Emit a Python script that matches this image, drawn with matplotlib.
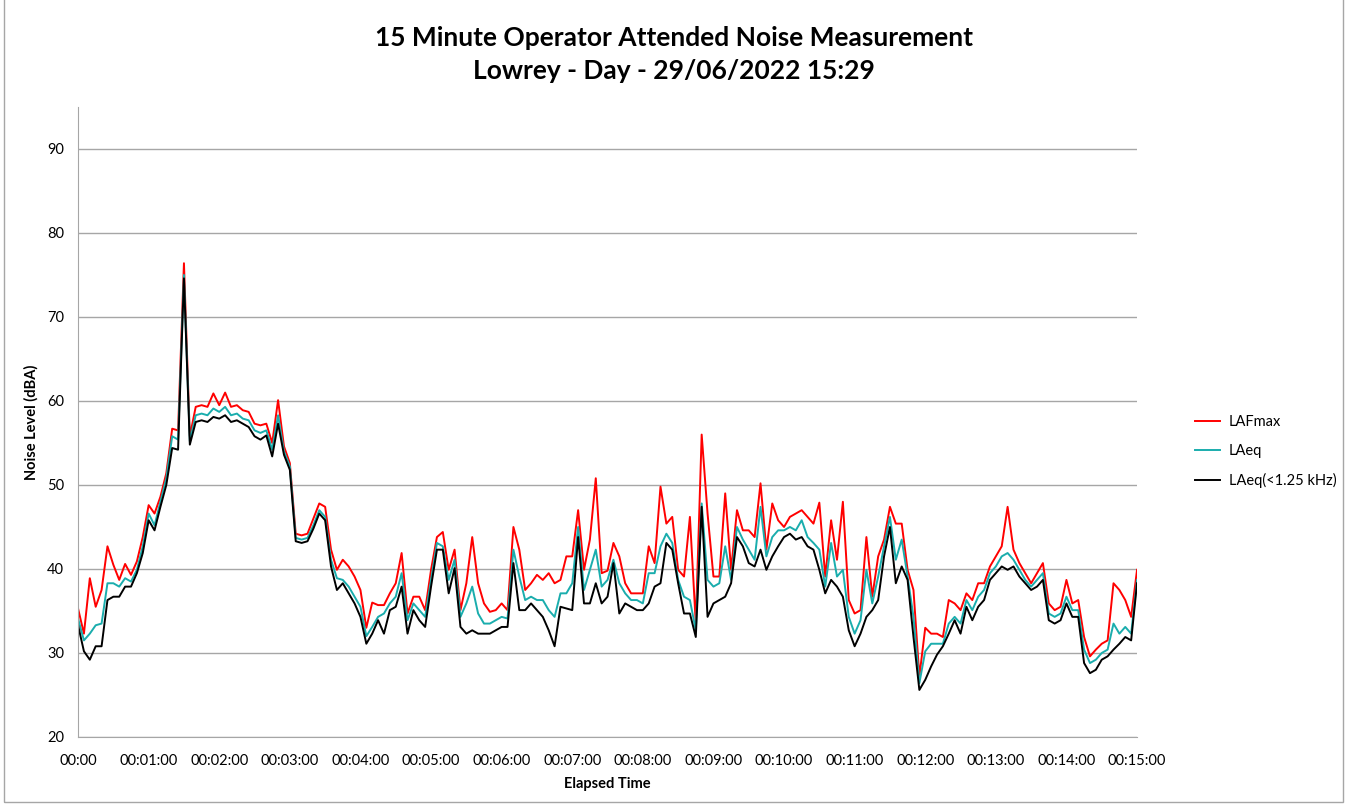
import matplotlib
matplotlib.use("Agg")
import matplotlib.pyplot as plt
from matplotlib.patches import Rectangle

# --- DATA (5 s steps) ---
STEP = 5
LAFMAX = [
    35.3, 32.3, 38.9, 35.5, 37.5, 42.7, 40.5, 38.7, 40.6, 39.3,
    40.9, 43.8, 47.6, 46.6, 48.6, 51.4, 56.7, 56.5, 76.4, 55.8,
    59.3, 59.5, 59.3, 60.9, 59.5, 61.0, 59.3, 59.5, 58.9, 58.7,
    57.3, 57.1, 57.3, 55.0, 60.1, 54.6, 52.6, 44.2, 44.0, 44.2,
    46.0, 47.8, 47.4, 42.3, 39.9, 41.1, 40.3, 39.1, 37.5, 33.0,
    36.0, 35.7, 35.7, 37.1, 38.3, 41.9, 34.7, 36.7, 36.7, 35.1,
    39.9, 43.8, 44.4, 39.9, 42.3, 35.1, 38.3, 43.8, 38.3, 35.9,
    34.9, 35.1, 35.9, 35.1, 45.0, 42.3, 37.5, 38.3, 39.3, 38.7,
    39.5, 38.3, 38.7, 41.5, 41.5, 47.0, 39.9, 43.5, 50.8, 39.5,
    39.8, 43.1, 41.5, 38.3, 37.1, 37.1, 37.1, 42.7, 40.7, 49.8,
    45.4, 46.2, 39.9, 39.1, 46.2, 33.5, 56.0, 46.6, 39.1, 39.1,
    49.0, 39.9, 47.0, 44.6, 44.6, 43.8, 50.2, 42.3, 47.8, 45.8,
    45.0, 46.2, 46.6, 47.0, 46.2, 45.4, 47.9, 39.1, 45.8, 41.1,
    48.0, 36.3, 34.7, 35.1, 43.8, 36.7, 41.5, 43.5, 47.4, 45.4,
    45.4, 39.9, 37.5, 27.2, 33.0, 32.3, 32.3, 31.9, 36.3, 35.9,
    35.1, 37.1, 36.3, 38.3, 38.3, 40.3, 41.5, 42.7, 47.4, 42.3,
    40.7, 39.5, 38.3, 39.5, 40.7, 35.9, 35.1, 35.5, 38.7, 35.9,
    36.3, 31.9, 29.6, 30.4, 31.1, 31.5, 38.3, 37.5, 36.3, 34.3,
    39.9,
]
LAEQ = [
    34.1, 31.5, 32.3, 33.3, 33.5, 38.3, 38.3, 37.9, 38.9, 38.5,
    39.9, 42.7, 46.6, 45.2, 48.0, 50.8, 55.8, 55.4, 75.0, 55.2,
    58.3, 58.5, 58.3, 59.1, 58.7, 59.3, 58.3, 58.5, 57.9, 57.7,
    56.5, 56.2, 56.5, 54.2, 58.3, 54.0, 52.2, 43.7, 43.5, 43.7,
    45.2, 47.0, 46.2, 41.1, 38.9, 38.7, 37.9, 36.7, 35.5, 32.0,
    33.1, 34.3, 34.7, 35.9, 36.7, 39.5, 33.9, 35.9, 35.1, 34.3,
    38.7, 43.1, 42.7, 38.7, 41.1, 34.3, 35.9, 37.9, 34.7, 33.5,
    33.5, 33.9, 34.3, 34.1, 42.3, 39.1, 36.3, 36.7, 36.3, 36.3,
    35.1, 34.3, 37.1, 37.1, 38.3, 45.0, 37.5, 39.9, 42.3, 37.9,
    38.7, 41.1, 38.3, 37.1, 36.3, 36.3, 35.9, 39.5, 39.5, 42.7,
    44.2, 43.1, 38.7, 36.7, 36.3, 32.7, 47.8, 38.7, 37.9, 38.3,
    42.7, 38.7, 45.0, 43.5, 42.3, 41.1, 47.4, 41.5, 43.8, 44.6,
    44.6, 45.0, 44.6, 45.8, 43.8, 43.1, 42.3, 37.9, 43.1, 39.1,
    39.9, 34.3, 32.3, 33.9, 39.9, 35.9, 39.1, 42.7, 46.2, 41.1,
    43.5, 39.1, 34.3, 26.4, 30.2, 31.1, 31.1, 31.1, 33.5, 34.3,
    33.5, 36.3, 35.1, 36.7, 37.5, 39.5, 40.3, 41.5, 41.9, 41.1,
    39.9, 38.7, 37.9, 38.7, 39.5, 34.7, 34.3, 34.7, 36.7, 35.1,
    35.1, 30.4, 28.8, 29.2, 30.0, 30.4, 33.5, 32.3, 33.1, 32.3,
    38.7,
]
LAEQ_LOW = [
    33.3, 30.2, 29.2, 30.8, 30.8, 36.3, 36.7, 36.7, 37.9, 37.9,
    39.5, 41.9, 45.8, 44.6, 47.4, 50.0, 54.4, 54.2, 74.6, 54.8,
    57.5, 57.7, 57.5, 58.1, 57.9, 58.3, 57.5, 57.7, 57.3, 56.9,
    55.8, 55.4, 55.9, 53.4, 57.3, 53.6, 51.8, 43.3, 43.1, 43.3,
    44.8, 46.6, 45.8, 40.3, 37.5, 38.3, 37.1, 35.9, 34.3, 31.1,
    32.3, 33.9, 32.3, 35.1, 35.5, 37.9, 32.3, 35.1, 33.9, 33.1,
    37.9, 42.3, 42.3, 37.1, 40.1, 33.1, 32.3, 32.7, 32.3, 32.3,
    32.3, 32.7, 33.1, 33.1, 40.7, 35.1, 35.1, 35.9, 35.1, 34.3,
    32.7, 30.8, 35.5, 35.3, 35.1, 43.8, 35.9, 35.9, 38.3, 35.9,
    36.7, 40.7, 34.7, 35.9, 35.5, 35.1, 35.1, 35.9, 37.9, 38.3,
    43.1, 42.3, 38.3, 34.7, 34.7, 31.9, 47.4, 34.3, 35.9, 36.3,
    36.7, 38.3, 43.8, 42.7, 40.7, 40.3, 42.3, 39.9, 41.5, 42.7,
    43.8, 44.2, 43.5, 43.8, 42.7, 42.3, 39.9, 37.1, 38.7, 37.9,
    36.7, 32.7, 30.8, 32.3, 34.3, 35.1, 36.3, 41.5, 45.0, 38.3,
    40.3, 38.7, 31.9, 25.6, 26.8, 28.4, 29.8, 30.8, 32.3, 33.9,
    32.3, 35.5, 33.9, 35.5, 36.3, 38.7, 39.5, 40.3, 39.9, 40.3,
    39.1, 38.3, 37.5, 37.9, 38.7, 33.9, 33.5, 33.9, 35.9, 34.3,
    34.3, 28.8, 27.6, 28.0, 29.2, 29.6, 30.4, 31.1, 31.9, 31.5,
    38.3,
]
TICK_LABELS = ["00:00"] + ["00:%02d:00" % m for m in range(1, 16)]
SERIES = [
    ("LAFmax", LAFMAX, "#ff0000"),
    ("LAeq", LAEQ, "#1aadad"),
    ("LAeq(<1.25 kHz)", LAEQ_LOW, "#000000"),
]

plt.rcParams["font.family"] = ["Lato", "DejaVu Sans"]

fig = plt.figure(figsize=(13.48, 8.05), dpi=100)
ax = fig.add_axes([0.0579, 0.0845, 0.7856, 0.7826])

times = [i * STEP for i in range(len(LAFMAX))]
handles = []
for name, vals, col in SERIES:
    h, = ax.plot(times, vals, color=col, lw=1.4, label=name)
    handles.append(h)

ax.set_xlim(0, 900)
ax.set_ylim(20, 95)
ax.set_xticks(range(0, 901, 60))
ax.set_xticklabels(TICK_LABELS, fontsize=10.5)
ax.set_yticks(range(20, 91, 10))
ax.tick_params(axis="y", labelsize=10.5, length=0, pad=10)
ax.tick_params(axis="x", length=0, pad=12)
ax.yaxis.grid(True, color="#a6a6a6", lw=1)
ax.set_axisbelow(True)
for s in ("top", "right"):
    ax.spines[s].set_visible(False)
for s in ("left", "bottom"):
    ax.spines[s].set_color("#a6a6a6")

ax.set_xlabel("Elapsed Time", fontsize=10.5, fontweight="bold", labelpad=7)
ax.set_ylabel("Noise Level (dBA)", fontsize=10.5, fontweight="bold", labelpad=6)

fig.text(0.5, 0.932, "15 Minute Operator Attended Noise Measurement\nLowrey - Day - 29/06/2022 15:29",
         ha="center", va="center", fontsize=19, fontweight="bold", linespacing=1.45)

fig.legend(handles=handles, loc="center left", bbox_to_anchor=(0.877, 0.439),
           frameon=False, fontsize=10.5, handlelength=1.7, handletextpad=0.6,
           labelspacing=1.0)

fig.patches.append(Rectangle((0.003, 0.004), 0.993, 1.2, transform=fig.transFigure,
                             fill=False, edgecolor="#a6a6a6", lw=1))

fig.savefig("out.png", dpi=100)
